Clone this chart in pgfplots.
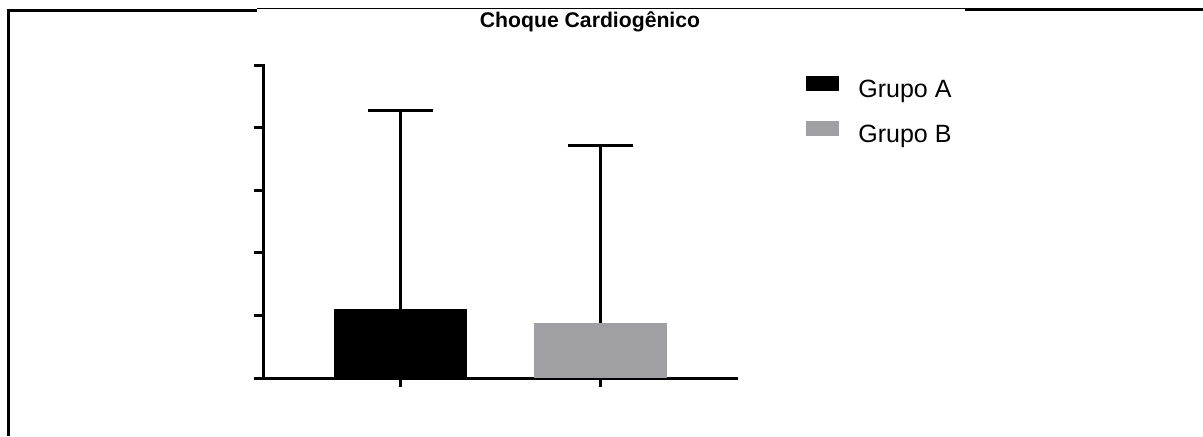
\documentclass[border=0pt]{standalone}
\usepackage{fontspec}
\setmainfont{Liberation Sans}
\usepackage{pgfplots}
\pgfplotsset{compat=1.18}
\definecolor{barB}{RGB}{160,159,164}
\begin{document}
\begin{tikzpicture}
\useasboundingbox (0pt,0pt) rectangle (601.5pt,-218pt);
% frame
\draw[line width=1.5pt] (4pt,-218pt) -- (4pt,-5pt) -- (128.5pt,-5pt);
\draw[line width=0.6pt] (128.5pt,-4.1pt) -- (482.5pt,-4.1pt);
\draw[line width=1.5pt] (482.5pt,-4.8pt) -- (601.5pt,-4.8pt);
% title
\node[anchor=base, inner sep=0pt, font=\fontsize{10.6pt}{12pt}\selectfont\bfseries] at (295pt,-13.5pt) {Choque Cardiogênico};
\begin{axis}[
  at={(131.5pt,-189pt)}, anchor=south west,
  scale only axis, width=236.5pt, height=156.5pt,
  ybar, bar shift=0pt, bar width=0.665,
  xmin=0.315, xmax=2.68, ymin=0, ymax=5,
  axis lines*=left,
  axis line style={line width=1.5pt, line cap=rect},
  x axis line style={shorten <=-3pt},
  xtick={1,2}, ytick={0,1,2,3,4,5},
  xticklabels={}, yticklabels={},
  tick align=outside, tick style={line width=1.5pt, black},
  major tick length=4.5pt,
  clip=false,
  legend style={draw=none, fill=none, at={(axis description cs:1.148,0.965)}, anchor=north west,
    inner sep=0pt, row sep=9pt, column sep=9.5pt,
    nodes={inner sep=0pt, text height=9pt, text depth=3pt, font=\fontsize{12.5pt}{14pt}\selectfont}},
  legend cell align=left,
  legend image code/.code={\fill[#1] (0pt,0pt) rectangle (16.5pt,7.5pt);},
]
\addplot[fill=black, draw=none,
  error bars/.cd, y dir=plus, y explicit, error mark=|,
  error bar style={line width=1.5pt, black},
  error mark options={line width=1.5pt, mark size=16.25pt, black}]
  coordinates {(1,1.10) +- (0,3.18)};
\addlegendentry{Grupo A}
\addplot[fill=barB, draw=none,
  error bars/.cd, y dir=plus, y explicit, error mark=|,
  error bar style={line width=1.5pt, black},
  error mark options={line width=1.5pt, mark size=16.25pt, black}]
  coordinates {(2,0.88) +- (0,2.84)};
\addlegendentry{Grupo B}
\end{axis}
\end{tikzpicture}
\end{document}
